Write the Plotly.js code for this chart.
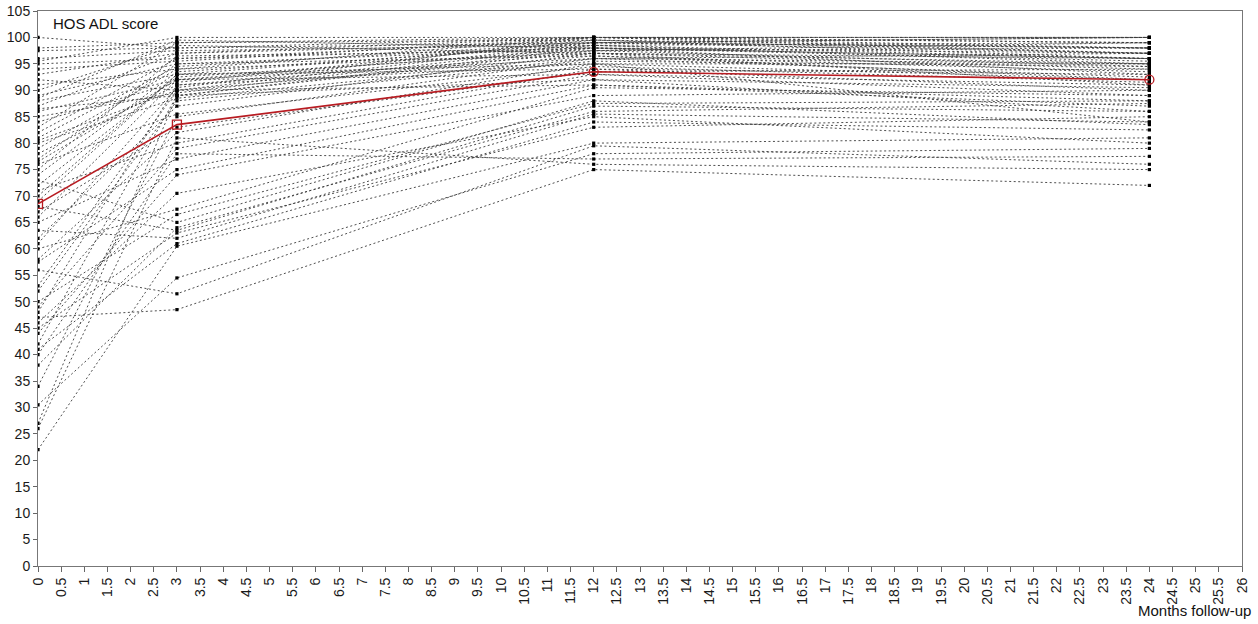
<!DOCTYPE html>
<html>
<head>
<meta charset="utf-8">
<script src="https://cdn.plot.ly/plotly-3.0.1.min.js"></script>
<style>
html,body{margin:0;padding:0;background:#fff;}
#chart{width:1258px;height:624px;}
</style>
</head>
<body>
<div id="chart"></div>
<script>
// Follow-up time points (months)
const months = [0, 3, 12, 24];

// HOS ADL score per patient (same order in every array)
const scoreBaseline = [47,56,30.5,22,41,63.5,45,68,38,73,50,60,46,44,57.5,65,40,49,71,26,58,67,34,76,62,
  52,80,27,42,85,53,92,61,48,78,84,66,86,72,88,70,74,91,79,81,89,77,94,82,95,75,93,87,96,97.5,100,90,98,83,88.5,95.5,86.5,80.5,76.5,69];
const score3m = [48.5,51.5,54.5,60.5,61,62,63,63.5,64,65,66.5,67.5,70.5,74,75,77,78,79,80,81,82,83,85,85.5,87,
  88,88.5,89,89,89.5,90,90,90.5,91,91,91.5,92,92,92.5,93,93,93.5,94,94,94.5,95,95,95.5,96,96,96.5,97,97,97.5,98,98,98.5,99,99,99.5,100,89,90,92,93];
const score12m = [75,79.5,78,80,84,85.5,83,87,86,88,87.5,90.5,85,89,91,92,77,93,94,76,95,93.5,96,94.5,97,
  95.5,96,97.5,98,98.5,99,96.5,100,97,95,99.5,98,96,97.5,99,94,98.5,100,97,99,98,96.5,100,99.5,98,97.5,99,100,98.5,99,100,97,100,99.5,98,100,92,91,93,95];
const score24m = [72,76,79,81,82.5,84,85,86,87.5,83.5,88,89,80,90,87,90.5,77.5,91,93,75,92,94,95,91.5,96,
  94.5,97,98,95.5,99,100,93.5,98,94,95,96,97,92.5,99,98,90,96,100,95,97,93,92,99,98,96,94.5,100,97,95,98,99,91,100,97,96,100,86,88,89,84];

// Group mean (red line)
const meanScore = [68.5, 83.5, 93.5, 92.0];

const traces = [];
for (let i = 0; i < scoreBaseline.length; i++) {
  traces.push({
    type: 'scatter', mode: 'lines+markers',
    x: months,
    y: [scoreBaseline[i], score3m[i], score12m[i], score24m[i]],
    line: {color: '#3a3a3a', width: 0.9, dash: '2px,2.5px'},
    marker: {symbol: 'square', size: 3.2, color: '#000'},
    hoverinfo: 'skip', showlegend: false
  });
}
traces.push({
  type: 'scatter', mode: 'lines+markers',
  x: months, y: meanScore,
  line: {color: '#b81c22', width: 1.6},
  marker: {symbol: ['square-open','square-open','circle-open','circle-open'], size: 9,
           color: '#b81c22', line: {width: 1.3, color: '#b81c22'}},
  showlegend: false
});

const font = {family: 'Liberation Sans, Arial, sans-serif', size: 14, color: '#1a1a1a'};
const layout = {
  width: 1258, height: 624,
  margin: {l: 38, r: 16, t: 11, b: 58},
  paper_bgcolor: '#fff', plot_bgcolor: '#fff',
  font: font,
  showlegend: false,
  xaxis: {
    range: [0, 26], dtick: 0.5, tick0: 0, tickangle: -90,
    ticks: 'outside', ticklen: 5, tickcolor: '#666',
    showgrid: false, zeroline: false,
    showline: true, linecolor: '#777', linewidth: 1, mirror: true,
    tickfont: font
  },
  yaxis: {
    range: [0, 105], dtick: 5, tick0: 0,
    ticks: 'outside', ticklen: 4, tickcolor: '#666',
    showgrid: false, zeroline: false,
    showline: true, linecolor: '#777', linewidth: 1, mirror: true,
    tickfont: font
  },
  annotations: [
    {text: 'HOS ADL score', xref: 'paper', yref: 'paper', x: 0.011, y: 0.997,
     xanchor: 'left', yanchor: 'top', showarrow: false,
     font: {family: 'Liberation Sans, Arial, sans-serif', size: 15, color: '#111'}},
    {text: 'Months follow-up', xref: 'paper', yref: 'paper', x: 1.009, y: -0.081,
     xanchor: 'right', yanchor: 'middle', showarrow: false,
     font: {family: 'Liberation Sans, Arial, sans-serif', size: 15, color: '#111'}}
  ]
};
Plotly.newPlot('chart', traces, layout, {displayModeBar: false, staticPlot: true});
</script>
</body>
</html>
